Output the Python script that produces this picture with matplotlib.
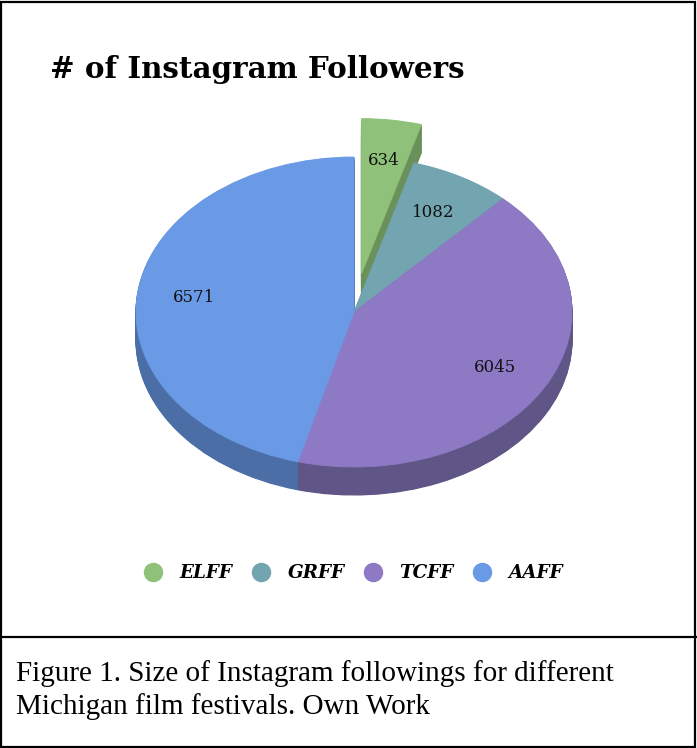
import matplotlib
matplotlib.use("Agg")
import matplotlib.pyplot as plt
from matplotlib.patches import Rectangle
from matplotlib.lines import Line2D
import numpy as np

# ---- data ----
categories = ["ELFF", "GRFF", "TCFF", "AAFF"]
followers = [634, 1082, 6045, 6571]
top_colors = ["#8FC17A", "#72A5B0", "#8D79C4", "#6A9AE6"]
side_colors = ["#6A9159", "#567E86", "#5F5586", "#4A6EA5"]
explode = [0.25, 0, 0, 0]

title = "# of Instagram Followers"
caption = "Figure 1. Size of Instagram followings for different\nMichigan film festivals. Own Work"

W, H = 697, 748
fig = plt.figure(figsize=(W / 100, H / 100), dpi=100)

# pie axes geometry (pixels)
cx, cy = 354, H - 312
rx, ry = 218, 155
xl = (-1.2, 1.2)
yl = (-1.45, 1.5)
left = cx + xl[0] * rx
bottom = cy + yl[0] * ry
width = (xl[1] - xl[0]) * rx
height = (yl[1] - yl[0]) * ry
ax = fig.add_axes([left / W, bottom / H, width / W, height / H])

depth = 28 / ry
nlayers = 30
total = sum(followers)
for d in np.linspace(depth, 0.0, nlayers)[:-1]:
    wedges, _ = ax.pie(followers, colors=side_colors, startangle=90, counterclock=False,
                       explode=explode, center=(0, -d),
                       wedgeprops=dict(linewidth=0.8, edgecolor=None))
    for w, c in zip(wedges, side_colors):
        w.set_edgecolor(c)

wedges, _, autotexts = ax.pie(followers, colors=top_colors, startangle=90, counterclock=False,
                              explode=explode, center=(0, 0),
                              autopct=lambda p: f"{round(p * total / 100)}", pctdistance=0.74,
                              wedgeprops=dict(linewidth=0.6),
                              textprops=dict(fontsize=12, family="DejaVu Serif", color="#111111"))
for w, c in zip(wedges, top_colors):
    w.set_edgecolor(c)

ax.set_xlim(*xl)
ax.set_ylim(*yl)
ax.set_aspect("auto")
ax.axis("off")

# title
fig.text(50 / W, 1 - 70 / H, title, fontsize=21.2, fontweight="bold", family="DejaVu Serif",
         va="center", ha="left")

# legend
handles = [Line2D([], [], marker="o", linestyle="none", markersize=13,
                  markerfacecolor=c, markeredgecolor=c) for c in top_colors]
fig.legend(handles, categories, loc="center", bbox_to_anchor=(349 / W, 1 - 573 / H),
           ncol=4, frameon=False, handletextpad=0.45, columnspacing=0.55,
           prop=dict(family="DejaVu Serif", weight="bold", style="italic", size=13.2))

# caption
fig.text(16 / W, 1 - 690 / H, caption, fontsize=21, family="Liberation Serif",
         va="center", ha="left", linespacing=1.3)

# frame
fig.add_artist(Rectangle((1 / W, 1 / H), (W - 3) / W, (H - 3) / H, transform=fig.transFigure,
                         fill=False, edgecolor="black", linewidth=1.6))
fig.add_artist(Line2D([0, 1], [1 - 637 / H, 1 - 637 / H], transform=fig.transFigure,
                      color="black", linewidth=1.6))

fig.savefig("out.png", dpi=100)
